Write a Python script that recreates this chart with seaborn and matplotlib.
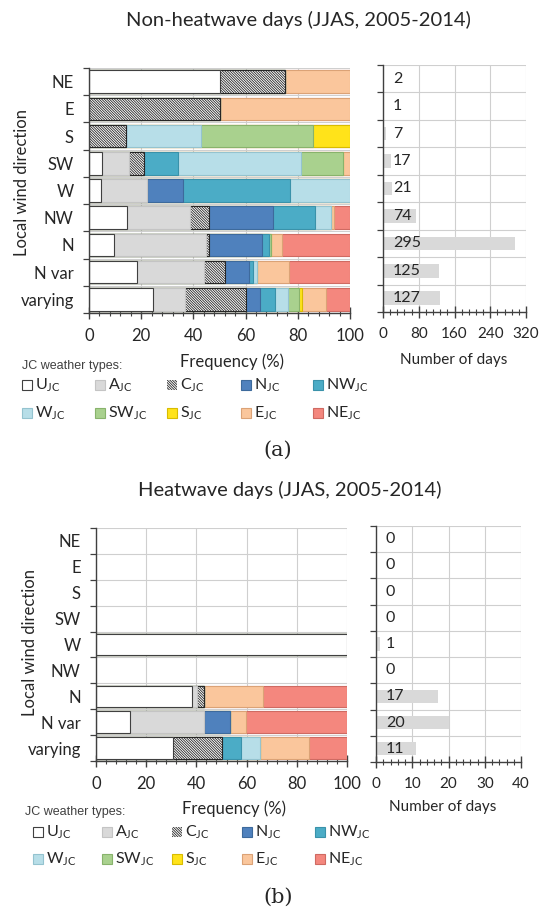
import numpy as np
import pandas as pd
import matplotlib
matplotlib.use("Agg")
import matplotlib.pyplot as plt
from matplotlib.patches import Rectangle
from matplotlib.ticker import MultipleLocator, FixedLocator
import seaborn as sns

# ---------------------------------------------------------------- data
directions = ["NE", "E", "S", "SW", "W", "NW", "N", "N var", "varying"]
jc_types = ["U", "A", "C", "N", "NW", "W", "SW", "S", "E", "NE"]

# Frequency (%) of each JC weather type per local wind direction, non-heatwave days
nhw_U = [50.0, 0.0, 0.0, 5.0, 4.5, 14.4, 9.4, 18.3, 24.7]
nhw_A = [0.0, 0.0, 0.0, 10.4, 17.7, 24.4, 35.5, 25.6, 11.9]
nhw_C = [25.0, 50.0, 14.3, 5.8, 0.0, 7.1, 1.0, 8.1, 23.6]
nhw_N = [0.0, 0.0, 0.0, 0.0, 13.7, 24.6, 20.5, 9.2, 5.5]
nhw_NW = [0.0, 0.0, 0.0, 13.0, 41.3, 15.9, 2.6, 1.5, 5.4]
nhw_W = [0.0, 0.0, 28.6, 47.2, 22.8, 6.3, 0.0, 1.7, 5.1]
nhw_SW = [0.0, 0.0, 42.8, 15.8, 0.0, 0.0, 0.9, 0.0, 4.2]
nhw_S = [0.0, 0.0, 14.3, 0.0, 0.0, 0.0, 0.0, 0.0, 1.3]
nhw_E = [25.0, 50.0, 0.0, 2.8, 0.0, 1.3, 4.1, 12.4, 9.2]
nhw_NE = [0.0, 0.0, 0.0, 0.0, 0.0, 6.0, 26.0, 23.2, 9.1]
nhw_days = [2, 1, 7, 17, 21, 74, 295, 125, 127]

# Frequency (%) of each JC weather type per local wind direction, heatwave days
hw_U = [0.0, 0.0, 0.0, 0.0, 100.0, 0.0, 38.2, 13.4, 30.7]
hw_A = [0.0, 0.0, 0.0, 0.0, 0.0, 0.0, 2.0, 29.8, 0.0]
hw_C = [0.0, 0.0, 0.0, 0.0, 0.0, 0.0, 3.0, 0.0, 19.5]
hw_N = [0.0, 0.0, 0.0, 0.0, 0.0, 0.0, 0.0, 10.3, 0.0]
hw_NW = [0.0, 0.0, 0.0, 0.0, 0.0, 0.0, 0.0, 0.0, 7.6]
hw_W = [0.0, 0.0, 0.0, 0.0, 0.0, 0.0, 0.0, 0.0, 7.4]
hw_SW = [0.0, 0.0, 0.0, 0.0, 0.0, 0.0, 0.0, 0.0, 0.0]
hw_S = [0.0, 0.0, 0.0, 0.0, 0.0, 0.0, 0.0, 0.0, 0.0]
hw_E = [0.0, 0.0, 0.0, 0.0, 0.0, 0.0, 23.3, 6.4, 19.5]
hw_NE = [0.0, 0.0, 0.0, 0.0, 0.0, 0.0, 33.5, 40.1, 15.3]
hw_days = [0, 0, 0, 0, 1, 0, 17, 20, 11]

nhw_freq = [nhw_U, nhw_A, nhw_C, nhw_N, nhw_NW, nhw_W, nhw_SW, nhw_S, nhw_E, nhw_NE]
hw_freq = [hw_U, hw_A, hw_C, hw_N, hw_NW, hw_W, hw_SW, hw_S, hw_E, hw_NE]

# ---------------------------------------------------------------- style
jc_colors = ["#ffffff", "#d9d9d9", "#ffffff", "#4f81bd", "#4bacc6",
             "#b7dee8", "#a9d18e", "#ffe31a", "#fac69c", "#f4877e"]
jc_edges = ["#404040", "#c4c4c4", "#262626", "#3d6a9c", "#3a92aa",
            "#94c3cf", "#88b36c", "#d8bc00", "#dba276", "#cf6a62"]
C_HATCH = "\\" * 13
jc_hatch = [None, None, C_HATCH, None, None, None, None, None, None, None]

sns.set_theme(style="white")
plt.rcParams["font.family"] = ["Lato", "DejaVu Sans"]
plt.rcParams["mathtext.fontset"] = "custom"
plt.rcParams["mathtext.rm"] = "Lato"
plt.rcParams["hatch.linewidth"] = 0.6
plt.rcParams["axes.unicode_minus"] = False

TXT = "#262626"
GRID = "#cfcfcf"
AX = "#404040"

W, H = 540, 910
fig = plt.figure(figsize=(W / 100, H / 100), dpi=100)


def px_axes(x0, y0, x1, y1):
    return fig.add_axes([x0 / W, 1 - y1 / H, (x1 - x0) / W, (y1 - y0) / H])


def px_text(x, y, s, **kw):
    fig.text(x / W, 1 - y / H, s, **kw)


def style_axes(ax, xmax, major, minor, xsize):
    ax.set_xlim(0, xmax)
    ax.set_ylim(len(directions) - 0.5, -0.5)
    ax.set_xlabel("")
    ax.set_ylabel("")
    ax.xaxis.set_major_locator(MultipleLocator(major))
    ax.xaxis.set_minor_locator(MultipleLocator(minor))
    ax.yaxis.set_minor_locator(FixedLocator(np.arange(-0.5, len(directions), 1)))
    ax.set_axisbelow(True)
    ax.grid(axis="x", which="major", color=GRID, lw=0.8)
    ax.grid(axis="y", which="minor", color=GRID, lw=0.8)
    ax.grid(axis="y", which="major", visible=False)
    for side in ("top", "right"):
        ax.spines[side].set_visible(False)
    for side in ("left", "bottom"):
        ax.spines[side].set_color(AX)
        ax.spines[side].set_linewidth(1.0)
    ax.tick_params(axis="x", which="major", direction="inout", length=8, width=1.0,
                   color=AX, labelsize=xsize, labelcolor=TXT, pad=7, bottom=True)
    ax.tick_params(axis="x", which="minor", direction="inout", length=5, width=0.8,
                   color=AX, bottom=True)
    ax.tick_params(axis="y", which="major", length=0, labelsize=12, labelcolor=TXT, pad=11)
    ax.tick_params(axis="y", which="minor", direction="out", length=4, width=0.9,
                   color=AX, left=True)


def drop_empty_bars(ax):
    for p in list(ax.patches):
        if p.get_width() == 0:
            p.remove()


def stacked_panel(ax, freq):
    df = pd.DataFrame({t: v for t, v in zip(jc_types, freq)}, index=directions)
    ends = df.cumsum(axis=1)
    # draw cumulative bars from the outermost type inwards so each type keeps its own span
    for k in reversed(range(len(jc_types))):
        t = jc_types[k]
        sns.barplot(x=ends[t].values, y=directions, order=directions, orient="h",
                    color=jc_colors[k], saturation=1, width=0.83, errorbar=None,
                    edgecolor=jc_edges[k], linewidth=0.8, hatch=jc_hatch[k], ax=ax)
    drop_empty_bars(ax)
    style_axes(ax, 100, 20, 4, 12)
    ax.set_yticks(range(len(directions)))
    ax.set_yticklabels(directions)


def days_panel(ax, days, xmax, major, minor):
    sns.barplot(x=days, y=directions, order=directions, orient="h",
                color="#d9d9d9", saturation=1, width=0.5, errorbar=None,
                linewidth=0, ax=ax)
    drop_empty_bars(ax)
    for i, v in enumerate(days):
        ax.annotate(str(v), xy=(0, i), xytext=(7, 0), textcoords="offset points",
                    va="center", ha="left", fontsize=11.5, color=TXT)
    style_axes(ax, xmax, major, minor, 11)
    ax.set_yticks(range(len(directions)))
    ax.set_yticklabels([])


def legend_block(x0, y_title, y_rows, x_cols):
    px_text(x0 - 2, y_title, "JC weather types:", fontsize=9, color="#404040",
            family=["Liberation Sans", "DejaVu Sans"], va="center", ha="left")
    for k in range(len(jc_types)):
        row, col = divmod(k, 5)
        x = x_cols[col]
        y = y_rows[row]
        rect = Rectangle((x / W, 1 - (y + 5) / H), 10 / W, 10 / H,
                         transform=fig.transFigure, facecolor=jc_colors[k],
                         edgecolor=jc_edges[k], lw=0.8, hatch=jc_hatch[k])
        if k == 2:
            rect.set_linewidth(0)
        fig.add_artist(rect)
        px_text(x + 13, y, r"%s$_{\mathregular{JC}}$" % jc_types[k], fontsize=11.5,
                color=TXT, va="center", ha="left")


# ---------------------------------------------------------------- (a) non-heatwave days
ax1 = px_axes(89, 68, 350, 313)
stacked_panel(ax1, nhw_freq)
ax2 = px_axes(383, 65, 526, 312)
days_panel(ax2, nhw_days, 320, 80, 16)

px_text(298, 20, "Non-heatwave days (JJAS, 2005-2014)", fontsize=14.5, color=TXT,
        ha="center", va="center")
px_text(22, 183, "Local wind direction", fontsize=12, color=TXT, rotation=90,
        ha="center", va="center")
px_text(232, 362, "Frequency (%)", fontsize=12, color=TXT, ha="center", va="center")
px_text(454, 360, "Number of days", fontsize=11, color=TXT, ha="center", va="center")
legend_block(24, 366, [385, 413], [22, 95, 167, 241, 313])
px_text(278, 450, "(a)", fontsize=15, color=TXT, ha="center", va="center",
        family=["DejaVu Serif"])

# ---------------------------------------------------------------- (b) heatwave days
ax3 = px_axes(96, 528, 347, 761)
stacked_panel(ax3, hw_freq)
ax4 = px_axes(376, 526, 521, 762)
days_panel(ax4, hw_days, 40, 10, 2)

px_text(290, 490, "Heatwave days (JJAS, 2005-2014)", fontsize=14.5, color=TXT,
        ha="center", va="center")
px_text(30, 642, "Local wind direction", fontsize=12, color=TXT, rotation=90,
        ha="center", va="center")
px_text(234, 809, "Frequency (%)", fontsize=12, color=TXT, ha="center", va="center")
px_text(443, 807, "Number of days", fontsize=11, color=TXT, ha="center", va="center")
legend_block(27, 812, [832, 859], [33, 102, 172, 242, 315])
px_text(278, 897, "(b)", fontsize=15, color=TXT, ha="center", va="center",
        family=["DejaVu Serif"])

fig.savefig("out.png", dpi=100, facecolor="white")
